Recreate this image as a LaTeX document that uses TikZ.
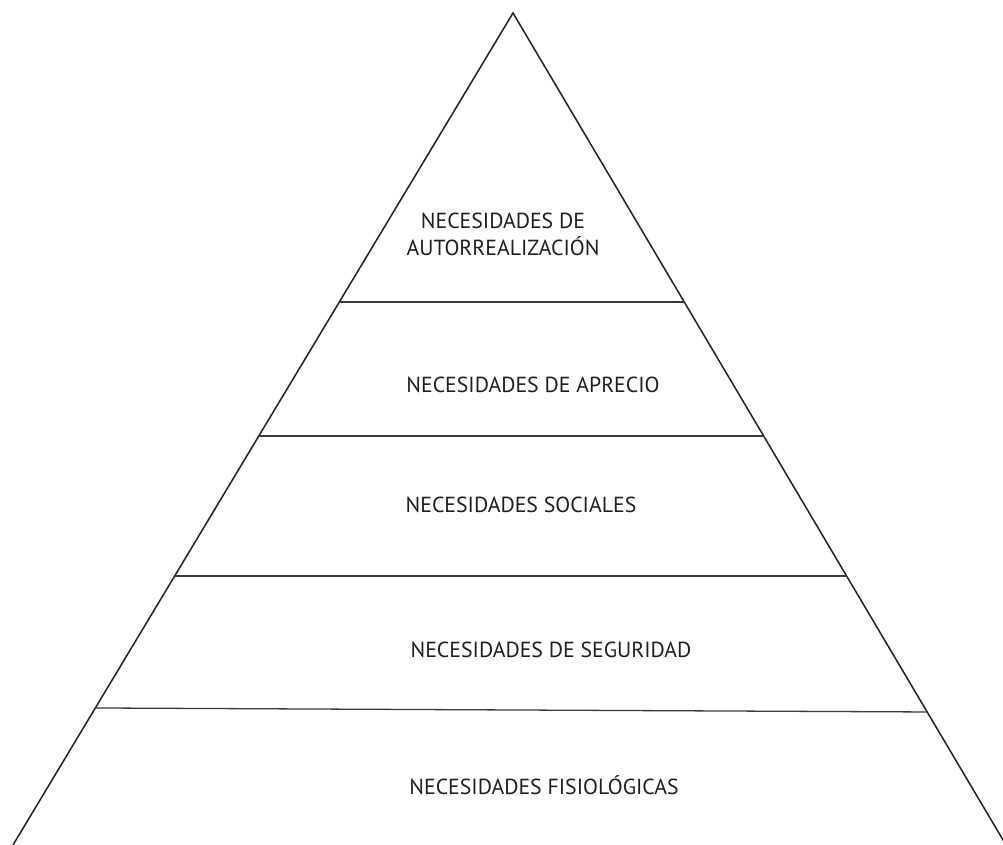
\documentclass[tikz,border=0pt]{standalone}
\usepackage{fontspec}
\setmainfont{PT Sans}
\usetikzlibrary{calc}
\definecolor{PYink}{HTML}{222222}
\definecolor{PYtier}{HTML}{3A3A3A}
\definecolor{PYtext}{HTML}{1E1E1E}
\tikzset{
  pyside/.style={draw=PYink, line width=1.3pt, line join=miter},
  pytier/.style={draw=PYtier, line width=1.1pt},
  pylbl/.style={font=\fontsize{18.6}{23}\selectfont, text=PYtext, align=center, inner sep=0pt},
}

\begin{document}
\begin{tikzpicture}[x=0.03cm, y=-0.03cm]
  \useasboundingbox (0,0) rectangle (1003,845);
  \clip (0,0) rectangle (1003,845);
  %% Outline
  \coordinate (apex) at (513,13);
  \coordinate (bl) at (13,845);
  \coordinate (br) at (1006,845);
  \draw[pyside] (bl) -- (apex) -- (br);
  %% Tier lines
  \coordinate (l1) at ($(apex)!0.3474!(bl)$);
  \coordinate (r1) at ($(apex)!0.3474!(br)$);
  \coordinate (l2) at ($(apex)!0.5084!(bl)$);
  \coordinate (r2) at ($(apex)!0.5084!(br)$);
  \coordinate (l3) at ($(apex)!0.6767!(bl)$);
  \coordinate (r3) at ($(apex)!0.6767!(br)$);
  \coordinate (l4) at ($(apex)!0.8353!(bl)$);
  \coordinate (r4) at ($(apex)!0.8401!(br)$);
  \draw[pytier] (l1) -- (r1);
  \draw[pytier] (l2) -- (r2);
  \draw[pytier] (l3) -- (r3);
  \draw[pytier] (l4) -- (r4);
  %% Labels
  \node[pylbl] (auto) at (503,234) {NECESIDADES DE\\AUTORREALIZACIÓN};
  \node[pylbl] (aprecio) at (533,385) {NECESIDADES DE APRECIO};
  \node[pylbl] (social) at (521,505) {NECESIDADES SOCIALES};
  \node[pylbl] (seguridad) at (551,650) {NECESIDADES DE SEGURIDAD};
  \node[pylbl] (fisio) at (544,785) {NECESIDADES FISIOLÓGICAS};
\end{tikzpicture}
\end{document}
